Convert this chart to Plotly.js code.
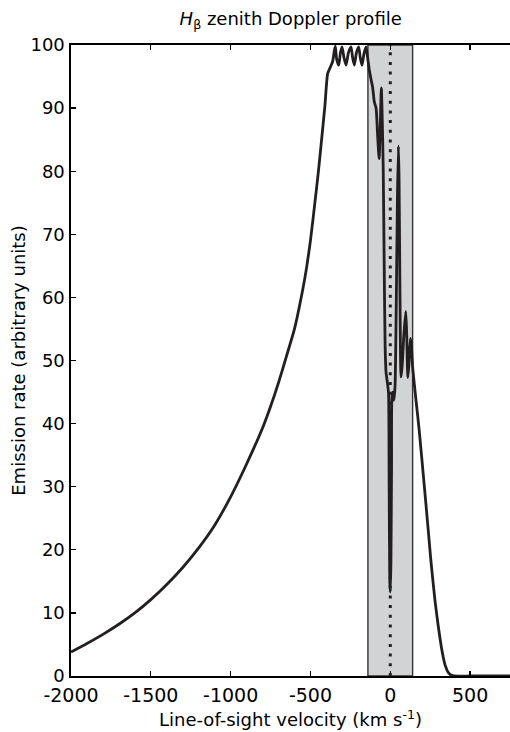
<!DOCTYPE html>
<html>
<head>
<meta charset="utf-8">
<script src="https://cdn.plot.ly/plotly-3.0.1.min.js"></script>
<style>html,body{margin:0;padding:0;background:#fff;}#chart{width:510px;height:732px;}</style>
</head>
<body>
<div id="chart"></div>
<script>
// Line-of-sight velocity (km/s)
var velocity = [
  -2000,-1900,-1800,-1700,-1600,-1500,-1400,-1300,-1200,-1100,-1000,-900,-800,-750,-700,-650,-600,-550,-525,-500,-470,-450,-433,-410,-392,
  -375,-360,-350,-344,-336,-323,-312,-302,-290,-277,-262,-246,-236,-225,-212,-198,-188,-177,-165,-152,-142,
  -131,-120,-111,-100,-89,-80,-70,-62,-56,-50,-44,-38,-32,-26,-18,-11,-7,-3,0,4,8,11,17,23,30,38,45,51,55,59,63,67,
  74,85,97,103,110,117,126,132,140,160,181,210,240,254,280,300,327,345,365,385,400,500,600,750
];
// Emission rate (arbitrary units)
var emission = [
  3.8,5.15,6.6,8.2,10.0,12.1,14.5,17.2,20.3,23.9,28.4,33.6,39.3,42.7,46.5,50.7,55,61,64.6,69,75.5,80,84.3,90.2,95.5,
  96.5,97.5,99.2,99.8,97.8,96.8,98.8,99.7,98,96.8,98.8,99.7,98,96.8,98.8,99.7,98,96.8,98.6,99.7,98,
  96,94.5,93.4,91,90,86,82,88,93.2,88,80,65,52,48,46.5,44.8,30,15,13.3,18,33,44.5,45,43.7,46,60,76,84,79,66,54,47.4,
  49,54,57.8,54,47.3,49.5,53.5,52.5,49,44,39,31,22.5,18.4,12,8,3.6,1.6,0.5,0.1,0,0,0,0
];
// Shaded velocity band (km/s) and line-of-sight marker
var bandLimits = [-140, 140];
var markerVelocity = [0];
var yRange = [0, 100];
var xTicks = [-2000,-1500,-1000,-500,0,500];
var yTicks = [0,10,20,30,40,50,60,70,80,90,100];

var font = 'DejaVu Sans, Liberation Sans, Arial, sans-serif';
var ink = '#231f20';

var traces = [{
  x: velocity, y: emission, type: 'scatter', mode: 'lines',
  line: {color: ink, width: 2.8, shape: 'spline', smoothing: 0.6}, hoverinfo: 'x+y', showlegend: false
}];

var layout = {
  width: 510, height: 732,
  margin: {l: 71, r: 0, t: 45, b: 56},
  paper_bgcolor: '#fff', plot_bgcolor: 'rgba(0,0,0,0)',
  font: {family: font, color: '#000', size: 18},
  title: {text: '<i>H</i><sub>β</sub> zenith Doppler profile', font: {family: font, size: 18, color: '#000'},
          x: 0.57, xanchor: 'center', y: 0.974, yanchor: 'middle'},
  xaxis: {
    range: [-2000, 750], tickvals: xTicks, ticktext: xTicks.map(String),
    ticks: 'inside', ticklen: 5, tickwidth: 1.3, tickcolor: '#000',
    showline: true, linecolor: '#000', linewidth: 1.6, mirror: 'ticks',
    showgrid: false, zeroline: false, tickfont: {size: 19, family: font},
    ticklabelstandoff: 2,
    title: {text: 'Line-of-sight velocity (km s<sup>-1</sup>)', font: {size: 18, family: font}, standoff: 8}
  },
  yaxis: {
    range: yRange, tickvals: yTicks, ticktext: yTicks.map(String),
    ticks: 'inside', ticklen: 5, tickwidth: 1.3, tickcolor: '#000',
    showline: true, linecolor: '#000', linewidth: 1.6, mirror: false,
    showgrid: false, zeroline: false, tickfont: {size: 18, family: font},
    ticklabelstandoff: 1,
    title: {text: 'Emission rate (arbitrary units)', font: {size: 18, family: font}, standoff: 0}
  },
  shapes: [
    {type: 'rect', xref: 'x', yref: 'y', x0: bandLimits[0], x1: bandLimits[1], y0: yRange[0], y1: yRange[1],
     fillcolor: '#d2d3d5', line: {color: '#333', width: 1.4}, layer: 'below'},
    {type: 'line', xref: 'x', yref: 'y', x0: markerVelocity[0], x1: markerVelocity[0], y0: yRange[0], y1: yRange[1],
     line: {color: ink, width: 3, dash: '3px,6.7px'}, layer: 'above'}
  ]
};

Plotly.newPlot('chart', traces, layout, {displayModeBar: false, staticPlot: true});
</script>
</body>
</html>
